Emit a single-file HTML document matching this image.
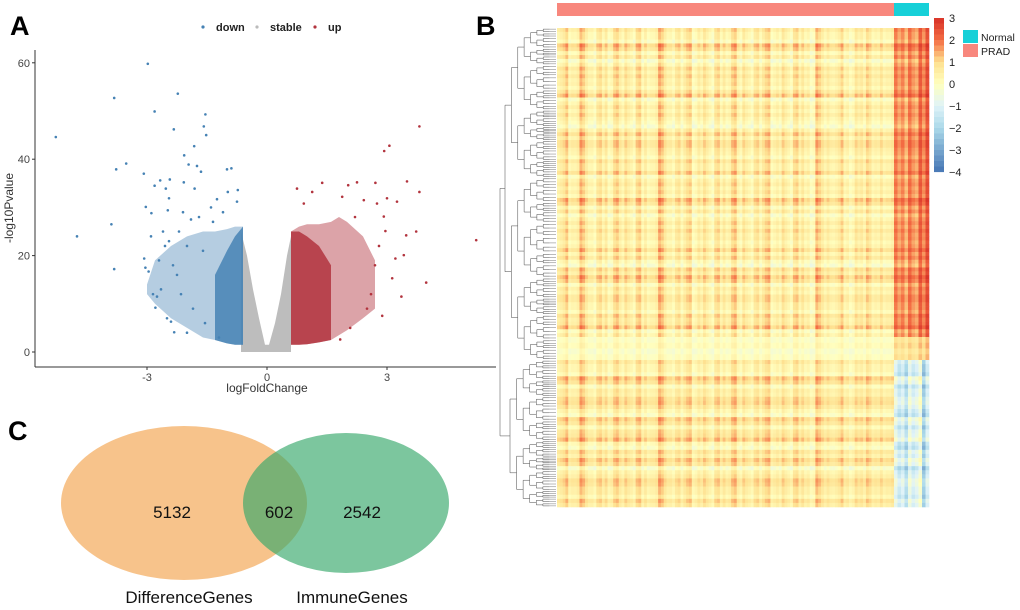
<!DOCTYPE html>
<html><head><meta charset="utf-8">
<style>
body{margin:0;background:#fff;}
svg{display:block;font-family:"Liberation Sans",Arial,sans-serif;}
</style></head>
<body>
<svg id="fig" width="1020" height="610" viewBox="0 0 1020 610">
<rect width="1020" height="610" fill="#fff"/>
<text x="10" y="35" font-size="27" font-weight="bold">A</text>
<text x="476" y="35" font-size="27" font-weight="bold">B</text>
<text x="8" y="440" font-size="27" font-weight="bold">C</text>

<g id="volcano">
  <g>
    <circle cx="203" cy="27" r="1.6" fill="#4682b4"/>
    <text x="216" y="31" font-size="11" font-weight="bold" fill="#222">down</text>
    <circle cx="257" cy="27" r="1.6" fill="#bbb"/>
    <text x="270" y="31" font-size="11" font-weight="bold" fill="#222">stable</text>
    <circle cx="315" cy="27" r="1.6" fill="#b2343e"/>
    <text x="328" y="31" font-size="11" font-weight="bold" fill="#222">up</text>
  </g>
  <g id="vmarks"></g>
  <g id="vaxes"></g>
  <text x="267" y="392" font-size="12" text-anchor="middle" fill="#333">logFoldChange</text>
  <text transform="translate(13,208) rotate(-90)" font-size="12" text-anchor="middle" fill="#333">-log10Pvalue</text>
</g>

<g id="heatmap">
  <g id="hcells"></g>
  <g id="hdend"></g>
  <rect x="557" y="3" width="337" height="13" fill="#f8877d"/>
  <rect x="894" y="3" width="35" height="13" fill="#17d0d8"/>
  <g id="cbar"></g>
  <rect x="963" y="30" width="15" height="13" fill="#17d0d8"/>
  <text x="981" y="41" font-size="10.5" fill="#222">Normal</text>
  <rect x="963" y="44" width="15" height="13" fill="#f8877d"/>
  <text x="981" y="55" font-size="10.5" fill="#222">PRAD</text>
</g>

<g id="venn">
  <ellipse cx="184" cy="503" rx="123" ry="77" fill="#f5b46e" fill-opacity="0.8"/>
  <ellipse cx="346" cy="503" rx="103" ry="70" fill="#36a86a" fill-opacity="0.65"/>
  <text x="172" y="518" font-size="17" text-anchor="middle" fill="#111">5132</text>
  <text x="279" y="518" font-size="17" text-anchor="middle" fill="#111">602</text>
  <text x="362" y="518" font-size="17" text-anchor="middle" fill="#111">2542</text>
  <text x="189" y="603" font-size="17" text-anchor="middle" fill="#111">DifferenceGenes</text>
  <text x="352" y="603" font-size="17" text-anchor="middle" fill="#111">ImmuneGenes</text>
</g>
</svg>
<script>
// ---------- Volcano data ----------
const xTicks=[-3,0,3];
const yTicks=[0,20,40,60];
const downX=[-5.28,-4.75,-3.82,-2.98,-3.52,-3.77,-3.89,-3.82,-2.81,-2.23,-2.33,-1.54,-1.58,-1.52,-1.82,-2.07,-1.96,-1.75,-1.65,-1.0,-0.89,-3.08,-3.03,-2.89,-2.81,-2.67,-2.43,-2.53,-2.45,-2.48,-3.07,-3.04,-2.96,-2.75,-2.79,-2.5,-2.4,-2.32,-2.08,-1.81,-1.25,-0.98,-0.73,-0.75,-2.9,-2.7,-2.6,-2.2,-2.0,-1.9,-1.7,-1.4,-2.35,-2.65,-2.15,-1.55,-1.2,-1.85,-2.45,-2.25,-2.0,-1.6,-1.35,-1.1,-2.85,-2.55,-2.1];
const downY=[44.6,24,52.7,59.8,39.1,37.9,26.5,17.2,49.9,53.6,46.2,49.3,46.8,45,42.7,40.8,38.9,38.6,37.4,37.9,38.1,37,30.1,28.8,34.5,35.6,35.8,33.9,31.9,29.4,19.4,17.5,16.7,11.5,9.2,7,6.3,4.1,35.2,33.9,31.7,33.2,33.6,31.2,24,19,25,25,22,27.5,28,30,18,13,12,6,3,9,23,16,4,21,27,29,12,22,29];
const upX=[3.81,3.06,2.93,3.5,3.81,5.23,3.98,3.36,3.42,3.21,3.13,2.88,3.73,3.48,2.96,2.92,3.0,3.25,2.71,2.25,2.03,1.38,1.13,0.75,0.92,1.88,2.42,2.75,1.83,2.08,2.6,2.7,2.8,2.5,2.2];
const upY=[46.8,42.8,41.7,35.4,33.2,23.2,14.4,11.5,20.1,19.4,15.3,7.5,25,24.2,25.1,28.1,31.9,31.2,35.1,35.2,34.6,35.1,33.2,33.9,30.8,32.2,31.5,30.8,2.6,5,12,18,22,9,28];
// dense envelopes: x, upper y, lower y
const downEnvX=[-0.6,-0.8,-1.0,-1.3,-1.6,-2.0,-2.4,-2.8,-3.0];
const downEnvTop=[26,26,25.5,25,25,24,22,19,14];
const downEnvBot=[1.5,1.5,1.8,2.5,3,5,7,10,12];
const upEnvX=[0.6,0.8,1.0,1.3,1.6,1.8,2.0,2.4,2.7];
const upEnvTop=[25,26,26.5,26.5,27,28,27,24,19];
const upEnvBot=[1.5,1.5,1.6,2,2.5,3.5,4.5,7,9];
const stEnvX=[-0.65,-0.5,-0.35,-0.2,-0.05,0.05,0.2,0.35,0.5,0.6];
const stEnvTop=[25,20,13,7,1.5,1.5,6,12,20,24];

const NS='http://www.w3.org/2000/svg';
function mk(tag,attrs,parent){const e=document.createElementNS(NS,tag);for(const k in attrs)e.setAttribute(k,attrs[k]);parent.appendChild(e);return e;}
const vx=v=>267+v*40, vy=v=>352-v*4.82;
const vm=document.getElementById('vmarks'), va=document.getElementById('vaxes');

function envPoly(xs,top,bot,color,op,name){
  let pts=xs.map((x,i)=>vx(x)+','+vy(top[i]));
  for(let i=xs.length-1;i>=0;i--)pts.push(vx(xs[i])+','+vy(bot?bot[i]:0));
  const p=mk('polygon',{points:pts.join(' '),fill:color,'fill-opacity':op},vm);
  
  
}
envPoly(stEnvX,stEnvTop,null,'#bdbdbd',1,'stable-cloud');
envPoly(downEnvX,downEnvTop,downEnvBot,'#4682b4',0.4,'down-cloud');
envPoly(downEnvX.slice(0,4),[26,24,21,16],[1.5,1.5,1.8,2.5],'#4682b4',0.85,'down-cloud-core');
envPoly(upEnvX,upEnvTop,upEnvBot,'#b2343e',0.45,'up-cloud');
envPoly(upEnvX.slice(0,5),[25,25,24,22,18],[1.5,1.5,1.6,2,2.5],'#b2343e',0.85,'up-cloud-core');
downX.forEach((x,i)=>{const c=mk('circle',{cx:vx(x),cy:vy(downY[i]),r:1.3,fill:'#4682b4'},vm);
  
  });
upX.forEach((x,i)=>{const c=mk('circle',{cx:vx(x),cy:vy(upY[i]),r:1.3,fill:'#b2343e'},vm);
  
  });
const xa=mk('line',{x1:35,y1:367,x2:496,y2:367,stroke:'#333','stroke-width':1},va);


const ya=mk('line',{x1:35,y1:50,x2:35,y2:367,stroke:'#333','stroke-width':1},va);


xTicks.forEach(t=>{mk('line',{x1:vx(t),y1:367,x2:vx(t),y2:370,stroke:'#333'},va);
  const tx=mk('text',{x:vx(t),y:381,'font-size':11,'text-anchor':'middle',fill:'#444'},va);tx.textContent=t;
  
  });
yTicks.forEach(t=>{mk('line',{x1:32,y1:vy(t),x2:35,y2:vy(t),stroke:'#333'},va);
  const tx=mk('text',{x:30,y:vy(t)+4,'font-size':11,'text-anchor':'end',fill:'#444'},va);tx.textContent=t;
  
  });

// ---------- Heatmap data ----------
const colProfile=[0.6,1.4,0.4,0.8,2.0,0.5,0.3,1.2,0.7,0.2,1.8,0.6,0.9,0.4,1.5,0.5,0.3,0.8,2.1,0.6,0.4,1.0,0.5,1.6,0.3,0.7,0.9,0.2,1.3,0.6,0.5,2.0,0.4,0.8,0.3,1.1,0.6,1.7,0.4,0.5,0.9,0.3,1.4,0.7,0.5,0.2,1.9,0.6,0.8,0.4,1.2,0.5,0.3,1.0,0.6,1.5,0.4,0.7,0.5,0.9];
const colFine=[0.0,0.5,-0.4,0.9,-0.2,0.3,-0.6];
const normalProfile=[1.9,1.5,1.8,1.3,2.0,1.6,1.4,2.3,1.7,2.5];
const rowProfile=[0.2,-0.3,0.4,0.0,-0.5,0.3,0.1,-0.2,0.5,-0.4,0.2,0.0,-0.6,0.3,0.1,0.4,-0.2,0.0,0.3,-0.3,0.2,-0.1,0.4,0.0,-0.4,0.2,0.1,-0.2,0.3,0.0,-0.3,0.2,0.4,-0.1,0.0,0.3,-0.2,0.1,0.5,-0.3];
const rowFine=[0.0,-0.3,0.2,-0.1,0.3];
const bandRow=[-0.2,0.0,-0.3,-0.1];
const lowerRowProfile=[0.3,-0.2,0.5,0.0,0.2,0.6,-0.3,0.4,0.1,0.5,-0.1,0.2,0.4,-0.2,0.3,0.5,0.0,0.2];
const lowerNormal=[-1.0,-1.6,-1.2,-2.0,-0.8,-1.4,-1.1,-0.5,-2.4,-1.3];
const cbTicks=[3,2,1,0,-1,-2,-3,-4];

function colorOf(v){
  const stops=[[-4,[69,117,180]],[-2,[171,217,233]],[-1,[224,243,248]],[0,[255,255,191]],[1,[254,224,144]],[2,[244,109,67]],[3,[215,48,39]]];
  v=Math.max(-4,Math.min(3,v));
  for(let i=0;i<stops.length-1;i++){const a=stops[i],b=stops[i+1];
    if(v<=b[0]){const t=(v-a[0])/(b[0]-a[0]);return 'rgb('+a[1].map((c,k)=>Math.round(c+(b[1][k]-c)*t)).join(',')+')';}}
  return 'rgb(215,48,39)';
}
const hc=document.getElementById('hcells');
const hx0=557,hPradW=337,hNormW=35,hTop=28,hBand=337,hMid=360,hBot=507;
const NC=colProfile.length*2;
const cw=hPradW/NC, nw=hNormW/normalProfile.length;
const NR=rowProfile.length*2;
const rh=(hBand-hTop)/NR, brh=(hMid-hBand)/bandRow.length, lrh=(hBot-hMid)/(lowerRowProfile.length*2);
function cell(x,y,w,h,v){const r=mk('rect',{x:x.toFixed(2),y:y.toFixed(2),width:(w+0.3).toFixed(2),height:(h+0.3).toFixed(2),fill:colorOf(v)},hc);
  
  }
const colVal=j=>colProfile[j>>1]+colFine[j%7]*0.5;
for(let i=0;i<NR;i++){
  const rv=rowProfile[i>>1]+rowFine[i%5];
  for(let j=0;j<NC;j++)cell(hx0+j*cw,hTop+i*rh,cw,rh,0.6*colVal(j)+rv);
  normalProfile.forEach((nv,j)=>cell(hx0+hPradW+j*nw,hTop+i*rh,nw,rh,nv+rv*0.6));
}
bandRow.forEach((rv,i)=>{
  for(let j=0;j<NC;j++)cell(hx0+j*cw,hBand+i*brh,cw,brh,0.3*colVal(j)+rv-0.1);
  normalProfile.forEach((nv,j)=>cell(hx0+hPradW+j*nw,hBand+i*brh,nw,brh,nv*0.6+rv));
});
for(let i=0;i<lowerRowProfile.length*2;i++){
  const rv=lowerRowProfile[i>>1]+rowFine[i%5];
  for(let j=0;j<NC;j++)cell(hx0+j*cw,hMid+i*lrh,cw,lrh,0.5*colVal(j)+rv);
  lowerNormal.forEach((nv,j)=>cell(hx0+hPradW+j*nw,hMid+i*lrh,nw,lrh,nv+rv));
}
// dendrogram (structural)
const hd=document.getElementById('hdend');
function tree(y0,y1,depth,xr){
  const mid=(y0+y1)/2;
  if(depth===0||y1-y0<2.5){mk('line',{x1:xr,y1:mid,x2:556,y2:mid,stroke:'#777','stroke-width':0.5},hd);return mid;}
  const step=(556-xr)/(depth+1);
  const split=y0+(y1-y0)*(depth%2?0.45:0.55);
  const a=tree(y0,split,depth-1,xr+step), b=tree(split,y1,depth-1,xr+step);
  mk('line',{x1:xr,y1:a,x2:xr,y2:b,stroke:'#666','stroke-width':0.6},hd);
  mk('line',{x1:xr,y1:a,x2:xr+step,y2:a,stroke:'#666','stroke-width':0.6},hd);
  mk('line',{x1:xr,y1:b,x2:xr+step,y2:b,stroke:'#666','stroke-width':0.6},hd);
  return (a+b)/2;
}
const ta=tree(hTop,hMid,7,505), tb=tree(hMid,hBot,6,510);
mk('line',{x1:500,y1:ta,x2:500,y2:tb,stroke:'#666','stroke-width':0.6},hd);
mk('line',{x1:500,y1:ta,x2:505,y2:ta,stroke:'#666','stroke-width':0.6},hd);
mk('line',{x1:500,y1:tb,x2:510,y2:tb,stroke:'#666','stroke-width':0.6},hd);


// colorbar
const cb=document.getElementById('cbar');
const cbY=v=>18+(3-v)*22;
for(let v=3;v>-4;v-=0.25){const r=mk('rect',{x:934,y:cbY(v),width:10,height:5.6,fill:colorOf(v-0.125)},cb);
  
  }
cbTicks.forEach(t=>{const tx=mk('text',{x:949,y:cbY(t)+4,'font-size':11,fill:'#222'},cb);tx.textContent=t<0?'\u2212'+(-t):t;
  
  });
</script>
</body></html>
